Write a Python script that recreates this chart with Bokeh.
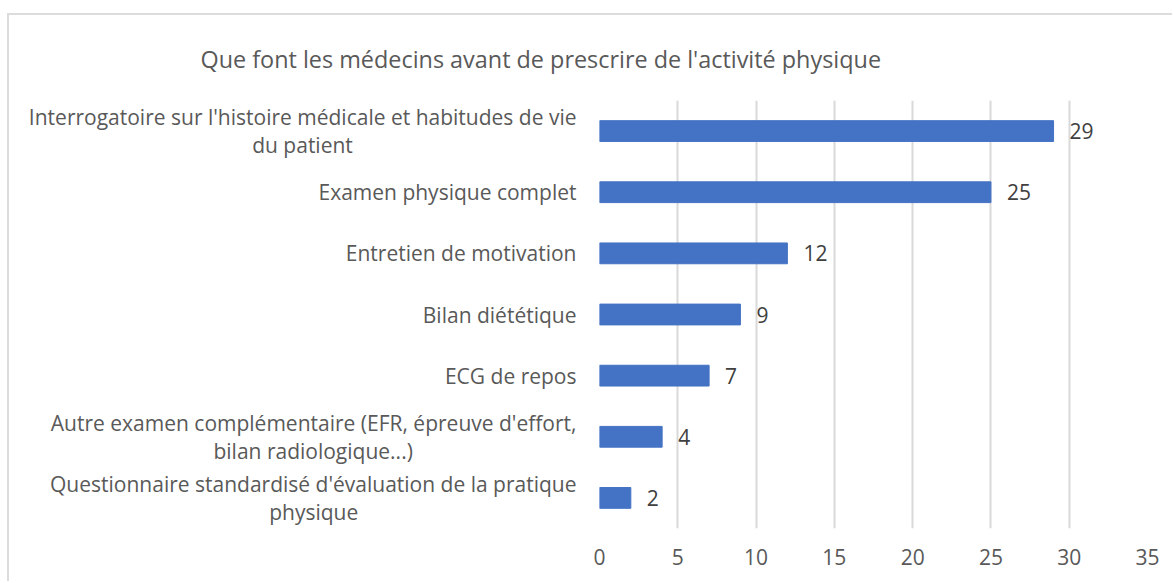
from bokeh.plotting import figure
from bokeh.models import ColumnDataSource, FactorRange, LabelSet, Title
from bokeh.core.properties import value
from bokeh.embed import file_html
from bokeh.resources import INLINE

categories = [
    "Interrogatoire sur l'histoire médicale et habitudes de vie\ndu patient",
    "Examen physique complet",
    "Entretien de motivation",
    "Bilan diététique",
    "ECG de repos",
    "Autre examen complémentaire (EFR, épreuve d'effort,\nbilan radiologique...)",
    "Questionnaire standardisé d'évaluation de la pratique\nphysique",
]
values = [29, 25, 12, 9, 7, 4, 2]
x_ticks = [0, 5, 10, 15, 20, 25, 30, 35]
title_text = "Que font les médecins avant de prescrire de l'activité physique"

# visual centering of second lines (non-breaking space padding, style only)
second_line_pad = [41, 0, 0, 0, 0, 30, 40]

FONT = "Open Sans"
TXT = "#595959"
NBSP = "\u00a0"

display = [c + NBSP * n if "\n" in c else c for c, n in zip(categories, second_line_pad)]

src = ColumnDataSource(dict(cat=display, val=values, lab=[str(v) for v in values]))

p = figure(
    width=1165, height=568, margin=(13, 0, 0, 7),
    y_range=FactorRange(factors=list(reversed(display))),
    x_range=(0, 35),
    output_backend="svg", toolbar_location=None,
    min_border_left=590, min_border_right=27, min_border_top=84, min_border_bottom=55,
)
p.styles = {"border-left": "2px solid #dcdcdc", "border-top": "2px solid #dcdcdc"}
p.outline_line_color = None

p.hbar(y="cat", right="val", left=0, height=0.34, source=src, color="#4472c4")

labels = LabelSet(x="val", y="cat", text="lab", source=src, x_offset=16,
                  text_align="left", text_baseline="middle",
                  text_font=value(FONT), text_font_size=value("21px"),
                  text_color="#404040")
p.add_layout(labels)

t = Title(text=title_text, align="left", offset=-399, standoff=51,
          text_font=FONT, text_font_size="23.4px", text_font_style="normal",
          text_color=TXT)
p.add_layout(t, "above")

p.xaxis.ticker = x_ticks
p.xaxis.axis_line_color = None
p.xaxis.major_tick_line_color = None
p.xaxis.minor_tick_line_color = None
p.xaxis.major_label_text_font = FONT
p.xaxis.major_label_text_font_size = "21px"
p.xaxis.major_label_text_color = TXT
p.xaxis.major_label_standoff = 14

p.yaxis.axis_line_color = None
p.yaxis.major_tick_line_color = None
p.yaxis.major_label_text_font = FONT
p.yaxis.major_label_text_font_size = "21px"
p.yaxis.major_label_text_color = TXT
p.yaxis.major_label_text_line_height = 1.0
p.yaxis.major_label_standoff = 17

p.ygrid.grid_line_color = None
p.xgrid.ticker = x_ticks
p.xgrid.grid_line_color = "#d9d9d9"
p.xgrid.grid_line_width = 2

open("out.html", "w").write(file_html(p, INLINE))
